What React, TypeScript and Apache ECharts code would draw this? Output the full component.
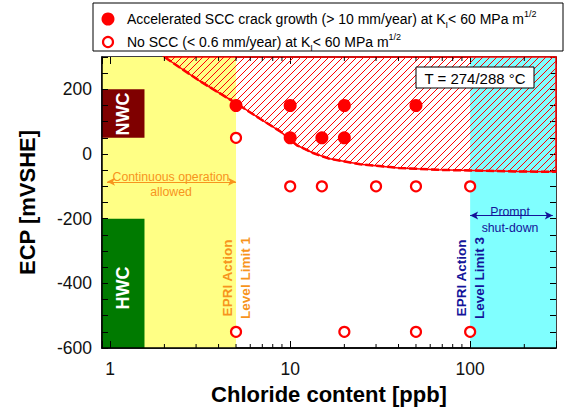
import { useEffect, useRef } from "react";
import * as echarts from "echarts";

// Measurements: chloride content [ppb] vs ECP [mV SHE]
const acceleratedScc: [number, number][] = [
  [5, 150], [10, 150], [20, 150], [50, 150],
  [10, 50], [15, 50], [20, 50],
];
const noScc: [number, number][] = [
  [5, 50],
  [10, -100], [15, -100], [30, -100], [50, -100], [100, -100],
  [5, -550], [20, -550], [50, -550], [100, -550],
];
// Boundary of the SCC-susceptible (hatched) domain
const sccBoundary: [number, number][] = [
  [2.0, 300], [3.16, 225], [5, 157], [6.8, 109], [8.8, 70], [10.9, 27],
  [13.4, 3], [16.6, -15], [24.5, -32], [40, -43], [66, -49], [100, -51],
  [180, -54], [300, -55],
];

// Operating domains
const continuousRange = [0.9, 5];
const shutdownRange = [100, 300];
const nwcBox = { x: [0.9, 1.55], y: [50, 200] };
const hwcBox = { x: [0.9, 1.55], y: [-600, -200] };
const continuousArrow = { x: [0.96, 5], y: -86 };
const shutdownArrow = { x: [100, 288], y: -190 };

// Axes
const xRange = [0.9, 300];
const yRange = [-600, 300];
const yTickStep = 50;
const yLabelStep = 200;
const xMajorTicks = [1, 10, 100];
const xMinorTicks = [2, 3, 4, 5, 6, 7, 8, 9, 20, 30, 40, 50, 60, 70, 80, 90, 200];

const FONT = "'Liberation Sans', Arial, Helvetica, sans-serif";
const RED = "#ff0000";
const ORANGE = "#f7941d";
const NAVY = "#14149a";

export default function App() {
  const ref = useRef<HTMLDivElement>(null);

  useEffect(() => {
    if (!ref.current) return;
    const chart = echarts.init(ref.current, undefined, { renderer: "svg" });

    const richLegend = {
      a: { fontSize: 14, fontFamily: FONT, color: "#000", lineHeight: 20 },
      sub: { fontSize: 9, fontFamily: FONT, color: "#000", verticalAlign: "bottom", lineHeight: 20 },
      sup: { fontSize: 9, fontFamily: FONT, color: "#000", verticalAlign: "top", lineHeight: 12 },
    };

    const isDecade = (v: number) =>
      v >= 1 && Math.abs(Math.log10(v) - Math.round(Math.log10(v))) < 1e-6 &&
      xMajorTicks.includes(Math.round(v));

    const xAxisBase = {
      type: "log" as const,
      logBase: 10,
      min: xRange[0],
      max: xRange[1],
      z: 3,
      splitLine: { show: false },
      axisTick: { show: true, inside: true, length: 7, lineStyle: { color: "#000", width: 1 } },
    };
    const yAxisBase = {
      type: "value" as const,
      min: yRange[0],
      max: yRange[1],
      interval: yTickStep,
      z: 3,
      splitLine: { show: false },
      axisTick: { show: true, inside: true, length: 6, lineStyle: { color: "#000", width: 1 } },
    };

    chart.setOption({
      animation: false,
      backgroundColor: "#fff",
      grid: {
        left: 102, right: 8, top: 57, bottom: 56,
        show: true, borderColor: "#000", borderWidth: 1.5, backgroundColor: "transparent",
      },
      xAxis: [
        {
          ...xAxisBase,
          position: "bottom",
          name: "Chloride content [ppb]",
          nameLocation: "middle",
          nameGap: 35,
          nameTextStyle: { fontSize: 22, fontWeight: "bold", fontFamily: FONT, color: "#000" },
          axisLine: { show: true, onZero: false, lineStyle: { color: "#000", width: 1.5 } },
          axisLabel: {
            margin: 12,
            fontSize: 17.5,
            fontFamily: FONT,
            color: "#111",
            formatter: (v: number) => (isDecade(v) ? String(Math.round(v)) : ""),
          },
        },
        {
          ...xAxisBase,
          position: "top",
          axisLine: { show: false, onZero: false },
          axisLabel: { show: false },
        },
      ],
      yAxis: [
        {
          ...yAxisBase,
          position: "left",
          name: "ECP [mVSHE]",
          nameLocation: "middle",
          nameGap: 64,
          nameTextStyle: { fontSize: 22, fontWeight: "bold", fontFamily: FONT, color: "#000" },
          axisLine: { show: true, onZero: false, lineStyle: { color: "#000", width: 1.5 } },
          axisLabel: {
            margin: 10,
            fontSize: 17.5,
            fontFamily: FONT,
            color: "#111",
            formatter: (v: number) => (v % yLabelStep === 0 ? String(v) : ""),
          },
        },
        {
          ...yAxisBase,
          position: "right",
          axisLine: { show: false, onZero: false },
          axisLabel: { show: false },
        },
      ],
      series: [
        // Operating domains
        {
          type: "scatter",
          z: 1,
          data: [],
          silent: true,
          markArea: {
            silent: true,
            label: { show: false },
            data: [
              [
                { xAxis: continuousRange[0], yAxis: yRange[0], itemStyle: { color: "#ffff85" } },
                { xAxis: continuousRange[1], yAxis: yRange[1] },
              ],
              [
                { xAxis: shutdownRange[0], yAxis: yRange[0], itemStyle: { color: "#80ffff" } },
                { xAxis: shutdownRange[1], yAxis: yRange[1] },
              ],
              [
                { xAxis: nwcBox.x[0], yAxis: nwcBox.y[0], itemStyle: { color: "#7f0000" } },
                { xAxis: nwcBox.x[1], yAxis: nwcBox.y[1] },
              ],
              [
                { xAxis: hwcBox.x[0], yAxis: hwcBox.y[0], itemStyle: { color: "#007a00" } },
                { xAxis: hwcBox.x[1], yAxis: hwcBox.y[1] },
              ],
            ],
          },
          markLine: {
            silent: true,
            symbol: ["arrow", "arrow"],
            symbolSize: [6, 8],
            label: { show: false },
            data: [
              [
                { coord: [continuousArrow.x[0], continuousArrow.y], lineStyle: { color: ORANGE, width: 1, type: "solid" }, itemStyle: { color: ORANGE } },
                { coord: [continuousArrow.x[1], continuousArrow.y] },
              ],
              [
                { coord: [shutdownArrow.x[0], shutdownArrow.y], lineStyle: { color: NAVY, width: 1, type: "solid" }, itemStyle: { color: NAVY } },
                { coord: [shutdownArrow.x[1], shutdownArrow.y] },
              ],
            ],
          },
        },
        // Hatched SCC domain above the boundary
        {
          type: "custom",
          z: 4,
          silent: true,
          data: [[1, 0]],
          renderItem: (_params: any, api: any) => {
            const pts = sccBoundary.map((p) => api.coord(p) as number[]);
            const top = api.coord([xRange[1], yRange[1]])[1];
            const xL = pts[0][0];
            const xR = pts[pts.length - 1][0];
            const g = pts.map((p) => p[0] + p[1]);
            const step = 7;
            const children: any[] = [];
            for (let c = Math.ceil(g[0]) + 3; c < g[g.length - 1]; c += step) {
              let x1 = xL;
              for (let i = 1; i < pts.length; i++) {
                if (c <= g[i]) {
                  const t = (c - g[i - 1]) / (g[i] - g[i - 1]);
                  x1 = pts[i - 1][0] + t * (pts[i][0] - pts[i - 1][0]);
                  break;
                }
              }
              const x2 = Math.min(c - top, xR);
              if (x2 <= x1) continue;
              children.push({
                type: "line",
                shape: { x1, y1: c - x1, x2, y2: c - x2 },
                style: { stroke: RED, lineWidth: 1 },
              });
            }
            children.push({
              type: "polygon",
              shape: { points: [...pts, [xR, top]] },
              style: { fill: "none", stroke: RED, lineWidth: 1.5 },
            });
            return { type: "group", children };
          },
        },
        // Boundary curve
        {
          type: "line",
          z: 5,
          silent: true,
          data: sccBoundary,
          showSymbol: false,
          symbol: "none",
          lineStyle: { color: RED, width: 2.5, type: [8, 3] },
        },
        // Log minor ticks, bottom and top
        {
          type: "custom",
          z: 7,
          silent: true,
          data: xMinorTicks.map((v) => [v, 0]),
          renderItem: (_params: any, api: any) => {
            const v = api.value(0);
            const b = api.coord([v, yRange[0]]);
            const t = api.coord([v, yRange[1]]);
            return {
              type: "group",
              children: [
                { type: "line", shape: { x1: b[0], y1: b[1], x2: b[0], y2: b[1] - 4 }, style: { stroke: "#000", lineWidth: 1 } },
                { type: "line", shape: { x1: t[0], y1: t[1], x2: t[0], y2: t[1] + 4 }, style: { stroke: "#000", lineWidth: 1 } },
              ],
            };
          },
        },
        {
          name: "No SCC (< 0.6 mm/year) at KI< 60 MPa m1/2",
          type: "scatter",
          z: 6,
          data: noScc,
          symbol: "circle",
          symbolSize: 10,
          itemStyle: { color: "#ffffff", borderColor: RED, borderWidth: 2.2, opacity: 1 },
        },
        {
          name: "Accelerated SCC crack growth (> 10 mm/year) at KI< 60 MPa m1/2",
          type: "scatter",
          z: 6,
          data: acceleratedScc,
          symbol: "circle",
          symbolSize: 13,
          itemStyle: { color: RED, opacity: 1 },
        },
      ],
      graphic: [
        // Legend
        { type: "rect", z: 50, shape: { x: 93, y: 3, width: 470, height: 48 }, style: { fill: "#fff", stroke: "#000", lineWidth: 1 } },
        { type: "circle", z: 51, shape: { cx: 108, cy: 19, r: 6.5 }, style: { fill: RED } },
        { type: "circle", z: 51, shape: { cx: 108, cy: 42, r: 5 }, style: { fill: "#fff", stroke: RED, lineWidth: 2.2 } },
        {
          type: "text", z: 51, x: 127, y: 19,
          style: {
            text: "{a|Accelerated SCC crack growth (> 10 mm/year) at K}{sub|I}{a|< 60 MPa m}{sup|1/2}",
            rich: richLegend, verticalAlign: "middle", align: "left",
          },
        },
        {
          type: "text", z: 51, x: 127, y: 42,
          style: {
            text: "{a|No SCC (< 0.6 mm/year) at K}{sub|I}{a|< 60 MPa m}{sup|1/2}",
            rich: richLegend, verticalAlign: "middle", align: "left",
          },
        },
        // Temperature box
        { type: "rect", z: 50, shape: { x: 416, y: 67, width: 118, height: 21 }, style: { fill: "#fff", stroke: "#000", lineWidth: 1 } },
        {
          type: "text", z: 51, x: 475, y: 78,
          style: { text: "T = 274/288 °C", fontSize: 15, fontFamily: FONT, fill: "#000", align: "center", verticalAlign: "middle" },
        },
        // Water chemistry labels
        {
          type: "text", z: 51, x: 123, y: 114, rotation: Math.PI / 2,
          style: { text: "NWC", fontSize: 18, fontWeight: "bold", fontFamily: FONT, fill: "#fff", align: "center", verticalAlign: "middle" },
        },
        {
          type: "text", z: 51, x: 123, y: 288, rotation: Math.PI / 2,
          style: { text: "HWC", fontSize: 18, fontWeight: "bold", fontFamily: FONT, fill: "#fff", align: "center", verticalAlign: "middle" },
        },
        // Operating guidance
        {
          type: "text", z: 51, x: 171, y: 184.5,
          style: { text: "Continuous operation\nallowed", fontSize: 12.3, lineHeight: 15, fontFamily: FONT, fill: ORANGE, align: "center", verticalAlign: "middle" },
        },
        {
          type: "text", z: 51, x: 510, y: 220,
          style: { text: "Prompt\nshut-down", fontSize: 12.3, lineHeight: 16, fontFamily: FONT, fill: NAVY, align: "center", verticalAlign: "middle" },
        },
        {
          type: "text", z: 51, x: 236.5, y: 278, rotation: Math.PI / 2,
          style: { text: "EPRI Action\nLevel Limit 1", fontSize: 13.5, fontWeight: "bold", lineHeight: 18, fontFamily: FONT, fill: ORANGE, align: "center", verticalAlign: "middle" },
        },
        {
          type: "text", z: 51, x: 470.5, y: 278, rotation: Math.PI / 2,
          style: { text: "EPRI Action\nLevel Limit 3", fontSize: 13.5, fontWeight: "bold", lineHeight: 18, fontFamily: FONT, fill: NAVY, align: "center", verticalAlign: "middle" },
        },
      ],
    });

    return () => chart.dispose();
  }, []);

  return (
    <div
      ref={ref}
      style={{ position: "fixed", left: 0, top: 0, width: 564, height: 410, background: "#fff" }}
    />
  );
}
